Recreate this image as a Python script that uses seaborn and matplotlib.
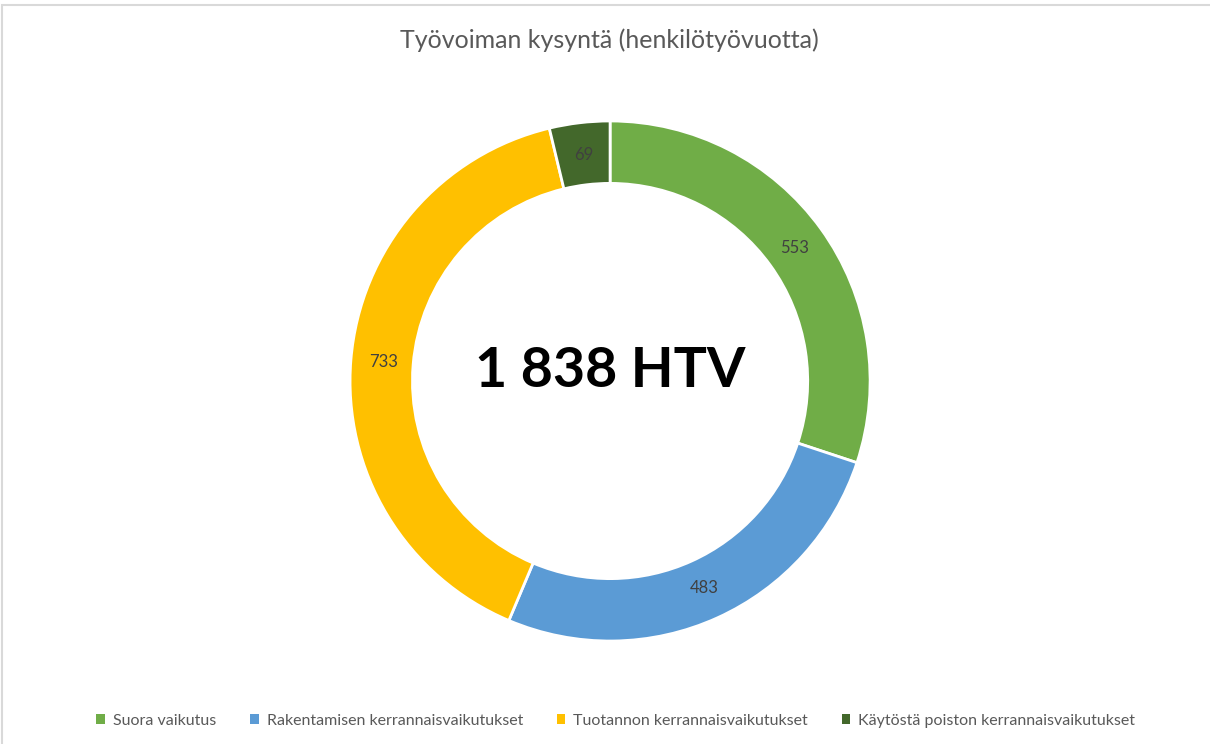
import matplotlib
matplotlib.use('Agg')
import matplotlib.pyplot as plt
from matplotlib.patches import Rectangle, Patch
import seaborn as sns
import numpy as np

# Data
categories = ['Suora vaikutus', 'Rakentamisen kerrannaisvaikutukset',
              'Tuotannon kerrannaisvaikutukset', 'Käytöstä poiston kerrannaisvaikutukset']
values = [553, 483, 733, 69]
colors = ['#70AD47', '#5B9BD5', '#FFC000', '#43682B']
title = 'Työvoiman kysyntä (henkilötyövuotta)'
center_text = '1 838 HTV'

sns.set_theme(style='white')
plt.rcParams['font.family'] = ['Lato', 'DejaVu Sans']

fig = plt.figure(figsize=(12.1, 7.44), dpi=100)
ax = fig.add_axes([0.2893, 0.1384, 0.4298, 0.699])

wedges, _ = ax.pie(values, colors=colors, startangle=90, counterclock=False,
                   radius=1.0, wedgeprops=dict(width=0.24, edgecolor='white', linewidth=2))
ax.set_aspect('equal')
ax.set_xlim(-1, 1)
ax.set_ylim(-1, 1)

# value labels at the middle of the ring
for w, v in zip(wedges, values):
    ang = np.deg2rad((w.theta1 + w.theta2) / 2)
    r = 0.875
    ax.text(r * np.cos(ang), r * np.sin(ang), str(v), ha='center', va='center',
            fontsize=12, color='#404040')

ax.text(0, 0.04, center_text, ha='center', va='center', fontsize=40,
        fontweight='bold', color='black')

fig.text(0.504, 0.946, title, ha='center', va='center', fontsize=18, color='#595959')

handles = [Patch(facecolor=c, edgecolor='none') for c in colors]
fig.legend(handles, categories, loc='center', bbox_to_anchor=(0.509, 0.031), ncol=4,
           frameon=False, fontsize=11.5, labelcolor='#595959', handlelength=0.55,
           handleheight=0.55, handletextpad=0.5, columnspacing=2.1)

fig.patches.append(Rectangle((0.002, -0.01), 1.2, 1.003, transform=fig.transFigure,
                             fill=False, edgecolor='#D9D9D9', linewidth=1.5))

fig.savefig('out.png', dpi=100)
